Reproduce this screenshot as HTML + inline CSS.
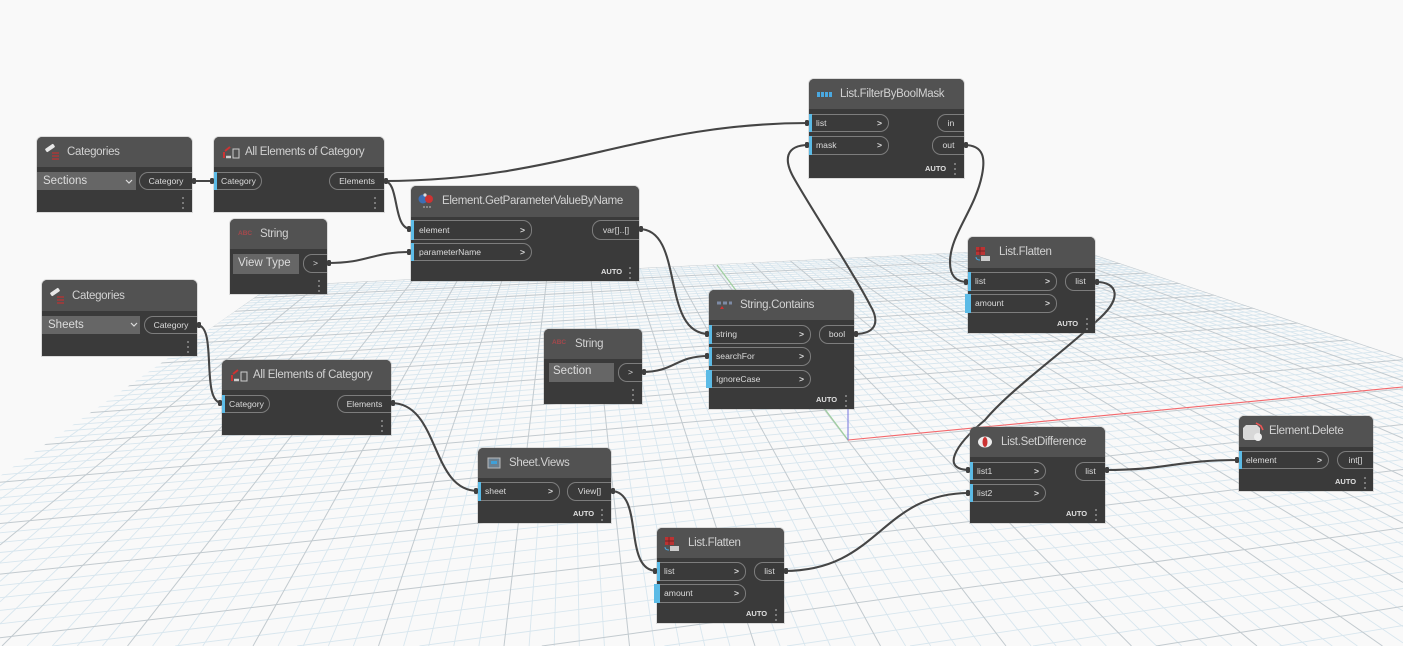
<!DOCTYPE html>
<html><head><meta charset="utf-8">
<style>
html,body{margin:0;padding:0;width:1403px;height:646px;overflow:hidden;background:#f9f9f9}
#w{position:absolute;left:0;top:0;width:1403px;height:646px;overflow:hidden;filter:blur(.35px);font-family:"Liberation Sans",sans-serif}
svg{position:absolute;left:0;top:0;display:block}
.n{position:absolute;background:#3a3a3a;border-radius:5px 5px 0 0;box-shadow:0 0 0 1px rgba(150,150,150,.3)}
.h{position:absolute;left:0;top:0;width:100%;background:#525252;border-radius:5px 5px 0 0}
.t{position:absolute;line-height:30px;font-size:11.5px;letter-spacing:-.3px;color:#d2d2d2;white-space:nowrap}
.i,.o{position:absolute;box-sizing:border-box;border:1px solid #7d7d7d;background:#3a3a3a;font-size:8.6px;color:#dcdcdc;white-space:nowrap}
.i{border-left:0;border-radius:0 9px 9px 0;padding-left:7px}
.i b{position:absolute;right:6px;top:0;font-weight:bold;font-size:8.6px}
.o{border-right:0;border-radius:9px 0 0 9px;text-align:center}
.b{position:absolute;width:3px;background:#5cbbe6}
.d{position:absolute;background:#666;color:#dcdcdc;font-size:11.5px;padding-left:6px;box-sizing:border-box;white-space:nowrap}
.a{position:absolute;font-size:7.5px;font-weight:bold;color:#e0e0e0;line-height:10px;white-space:nowrap}
.c{position:absolute;font-size:6.5px;font-weight:bold;color:#a5484c;line-height:10px;white-space:nowrap}
</style></head><body><div id="w">

<svg id="g" width="1403" height="646" viewBox="0 0 1403 646">
<defs><clipPath id="cp"><polygon points="271,286 1071,247 1403,358 1403,646 0,646 0,476"/></clipPath></defs>
<g id="grid" clip-path="url(#cp)" fill="none"></g>
<path d="M717 265L848 440" stroke="#9fcf9f" stroke-width="1.2" fill="none"/>
<path d="M848 440L1403 387" stroke="#f4686c" stroke-width="1.1" fill="none"/>
<path d="M848 440V409" stroke="#7f7fe0" stroke-width="1.1" fill="none"/>
</svg>

<svg width="1403" height="646" viewBox="0 0 1403 646" fill="none" stroke="#454545" stroke-width="2.1" stroke-linecap="round">
<path d="M192 181H214"/>
<path d="M384 181C560 181 640 123 809 123"/>
<path d="M384 181C400 181 392 229 411 229"/>
<path d="M327 263C370 263 370 252 411 252"/>
<path d="M197 325C218 325 200 403 222 403"/>
<path d="M391 403C440 403 430 491 478 491"/>
<path d="M611 491C645 491 622 571 657 571"/>
<path d="M784 571C880 571 880 493 970 493"/>
<path d="M639 229C685 229 660 334 709 334"/>
<path d="M642 372C675 372 675 356 709 356"/>
<path d="M854 334C880 334 878 318 870 305C855 275 815 215 795 180C783 160 785 145 809 145"/>
<path d="M964 145C985 145 985 160 982 175C975 210 950 235 950 262C950 275 955 282 968 282"/>
<path d="M1096 282C1118 282 1122 298 1100 318C1060 355 1010 390 985 420C955 445 940 470 970 470"/>
<path d="M1105 470C1170 470 1175 460 1239 460"/>
</svg>

<!-- Categories 1 -->
<div class="n" style="left:37px;top:137px;width:155px;height:75px"><div class="h" style="height:30px"></div></div>
<div class="t" style="left:67px;top:137px">Categories</div>
<div class="d" style="left:37px;top:172px;width:99px;height:18px;line-height:18px">Sections</div>
<div class="o" style="left:139px;top:172px;width:53px;height:18px;line-height:16px">Category</div>

<!-- All Elements 1 -->
<div class="n" style="left:214px;top:137px;width:170px;height:75px"><div class="h" style="height:30px"></div></div>
<div class="t" style="left:245px;top:137px">All Elements of Category</div>
<div class="i" style="left:217px;top:172px;width:45px;height:18px;line-height:16px;padding-left:4px">Category</div>
<div class="b" style="left:214px;top:172px;height:18px"></div>
<div class="o" style="left:329px;top:172px;width:55px;height:18px;line-height:16px">Elements</div>

<!-- String 1 -->
<div class="n" style="left:230px;top:219px;width:97px;height:75px"><div class="h" style="height:30px"></div></div>
<div class="c" style="left:238px;top:229px">ABC</div>
<div class="t" style="left:260px;top:219px">String</div>
<div class="d" style="left:233px;top:254px;width:66px;height:20px;line-height:18px;padding-left:5px">View Type</div>
<div class="o" style="left:303px;top:254px;width:24px;height:19px;line-height:17px">&gt;</div>

<!-- Categories 2 -->
<div class="n" style="left:42px;top:280px;width:155px;height:76px"><div class="h" style="height:31px"></div></div>
<div class="t" style="left:72px;top:281px">Categories</div>
<div class="d" style="left:42px;top:316px;width:98px;height:18px;line-height:18px">Sheets</div>
<div class="o" style="left:144px;top:316px;width:53px;height:18px;line-height:16px">Category</div>

<!-- All Elements 2 -->
<div class="n" style="left:222px;top:360px;width:169px;height:75px"><div class="h" style="height:30px"></div></div>
<div class="t" style="left:253px;top:360px">All Elements of Category</div>
<div class="i" style="left:225px;top:395px;width:45px;height:18px;line-height:16px;padding-left:4px">Category</div>
<div class="b" style="left:222px;top:395px;height:18px"></div>
<div class="o" style="left:337px;top:395px;width:54px;height:18px;line-height:16px">Elements</div>

<!-- GetParameterValueByName -->
<div class="n" style="left:411px;top:186px;width:228px;height:95px"><div class="h" style="height:31px"></div></div>
<div class="t" style="left:442px;top:186px">Element.GetParameterValueByName</div>
<div class="i" style="left:414px;top:220px;width:118px;height:20px;line-height:18px;padding-left:5px">element<b>&gt;</b></div>
<div class="b" style="left:411px;top:220px;height:20px"></div>
<div class="i" style="left:414px;top:243px;width:118px;height:18px;line-height:16px;padding-left:5px">parameterName<b>&gt;</b></div>
<div class="b" style="left:411px;top:243px;height:18px"></div>
<div class="o" style="left:592px;top:220px;width:47px;height:20px;line-height:18px">var[]..[]</div>
<div class="a" style="left:601px;top:267px">AUTO</div>

<!-- String 2 -->
<div class="n" style="left:544px;top:329px;width:98px;height:75px"><div class="h" style="height:30px"></div></div>
<div class="c" style="left:552px;top:338px">ABC</div>
<div class="t" style="left:575px;top:329px">String</div>
<div class="d" style="left:549px;top:363px;width:65px;height:19px;line-height:17px;padding-left:4px">Section</div>
<div class="o" style="left:618px;top:363px;width:24px;height:19px;line-height:17px">&gt;</div>

<!-- String.Contains -->
<div class="n" style="left:709px;top:290px;width:145px;height:119px"><div class="h" style="height:30px"></div></div>
<div class="t" style="left:740px;top:290px">String.Contains</div>
<div class="i" style="left:712px;top:325px;width:99px;height:19px;line-height:17px;padding-left:4px">string<b>&gt;</b></div>
<div class="b" style="left:709px;top:325px;height:19px"></div>
<div class="i" style="left:712px;top:347px;width:99px;height:19px;line-height:17px;padding-left:4px">searchFor<b>&gt;</b></div>
<div class="b" style="left:709px;top:347px;height:19px"></div>
<div class="i" style="left:712px;top:370px;width:99px;height:18px;line-height:16px;padding-left:4px">IgnoreCase<b>&gt;</b></div>
<div class="b" style="left:706px;top:370px;height:18px;width:6px"></div>
<div class="o" style="left:819px;top:325px;width:35px;height:19px;line-height:17px">bool</div>
<div class="a" style="left:816px;top:395px">AUTO</div>

<!-- FilterByBoolMask -->
<div class="n" style="left:809px;top:79px;width:155px;height:99px"><div class="h" style="height:30px"></div></div>
<div class="t" style="left:840px;top:79px">List.FilterByBoolMask</div>
<div class="i" style="left:812px;top:114px;width:77px;height:18px;line-height:16px;padding-left:4px">list<b>&gt;</b></div>
<div class="b" style="left:809px;top:114px;height:18px"></div>
<div class="i" style="left:812px;top:136px;width:77px;height:19px;line-height:17px;padding-left:4px">mask<b>&gt;</b></div>
<div class="b" style="left:809px;top:136px;height:19px"></div>
<div class="o" style="left:937px;top:114px;width:27px;height:18px;line-height:16px">in</div>
<div class="o" style="left:932px;top:136px;width:32px;height:19px;line-height:17px">out</div>
<div class="a" style="left:925px;top:164px">AUTO</div>

<!-- Flatten 1 -->
<div class="n" style="left:968px;top:237px;width:127px;height:96px"><div class="h" style="height:31px"></div></div>
<div class="t" style="left:999px;top:237px">List.Flatten</div>
<div class="i" style="left:971px;top:272px;width:86px;height:19px;line-height:17px;padding-left:4px">list<b>&gt;</b></div>
<div class="b" style="left:968px;top:272px;height:19px"></div>
<div class="i" style="left:971px;top:294px;width:86px;height:19px;line-height:17px;padding-left:4px">amount<b>&gt;</b></div>
<div class="b" style="left:965px;top:294px;height:19px;width:6px"></div>
<div class="o" style="left:1065px;top:272px;width:30px;height:19px;line-height:17px">list</div>
<div class="a" style="left:1057px;top:319px">AUTO</div>

<!-- SetDifference -->
<div class="n" style="left:970px;top:427px;width:135px;height:96px"><div class="h" style="height:30px"></div></div>
<div class="t" style="left:1001px;top:427px">List.SetDifference</div>
<div class="i" style="left:973px;top:462px;width:73px;height:18px;line-height:16px;padding-left:4px">list1<b>&gt;</b></div>
<div class="b" style="left:970px;top:462px;height:18px"></div>
<div class="i" style="left:973px;top:484px;width:73px;height:18px;line-height:16px;padding-left:4px">list2<b>&gt;</b></div>
<div class="b" style="left:970px;top:484px;height:18px"></div>
<div class="o" style="left:1075px;top:462px;width:30px;height:19px;line-height:17px">list</div>
<div class="a" style="left:1066px;top:509px">AUTO</div>

<!-- Element.Delete -->
<div class="n" style="left:1239px;top:416px;width:134px;height:75px"><div class="h" style="height:31px"></div></div>
<div class="t" style="left:1269px;top:416px">Element.Delete</div>
<div class="i" style="left:1242px;top:451px;width:87px;height:18px;line-height:16px;padding-left:4px">element<b>&gt;</b></div>
<div class="b" style="left:1239px;top:451px;height:18px"></div>
<div class="o" style="left:1337px;top:451px;width:36px;height:18px;line-height:16px">int[]</div>
<div class="a" style="left:1335px;top:477px">AUTO</div>

<!-- Sheet.Views -->
<div class="n" style="left:478px;top:448px;width:133px;height:75px"><div class="h" style="height:30px"></div></div>
<div class="t" style="left:509px;top:448px">Sheet.Views</div>
<div class="i" style="left:481px;top:482px;width:79px;height:19px;line-height:17px;padding-left:4px">sheet<b>&gt;</b></div>
<div class="b" style="left:478px;top:482px;height:19px"></div>
<div class="o" style="left:567px;top:482px;width:44px;height:19px;line-height:17px">View[]</div>
<div class="a" style="left:573px;top:509px">AUTO</div>

<!-- Flatten 2 -->
<div class="n" style="left:657px;top:528px;width:127px;height:95px"><div class="h" style="height:30px"></div></div>
<div class="t" style="left:688px;top:528px">List.Flatten</div>
<div class="i" style="left:660px;top:562px;width:86px;height:19px;line-height:17px;padding-left:4px">list<b>&gt;</b></div>
<div class="b" style="left:657px;top:562px;height:19px"></div>
<div class="i" style="left:660px;top:584px;width:86px;height:19px;line-height:17px;padding-left:4px">amount<b>&gt;</b></div>
<div class="b" style="left:654px;top:584px;height:19px;width:6px"></div>
<div class="o" style="left:754px;top:562px;width:30px;height:19px;line-height:17px">list</div>
<div class="a" style="left:746px;top:609px">AUTO</div>

<svg width="1403" height="646" viewBox="0 0 1403 646">
<!-- knobs -->
<g fill="#3f3f3f">
<rect x="192" y="178" width="4" height="6" rx="1.5"/><rect x="210" y="178" width="4" height="6" rx="1.5"/>
<rect x="384" y="178" width="4" height="6" rx="1.5"/><rect x="407" y="226" width="4" height="6" rx="1.5"/>
<rect x="407" y="249" width="4" height="6" rx="1.5"/><rect x="327" y="260" width="4" height="6" rx="1.5"/>
<rect x="197" y="322" width="4" height="6" rx="1.5"/><rect x="218" y="400" width="4" height="6" rx="1.5"/>
<rect x="391" y="400" width="4" height="6" rx="1.5"/><rect x="474" y="488" width="4" height="6" rx="1.5"/>
<rect x="611" y="488" width="4" height="6" rx="1.5"/><rect x="653" y="568" width="4" height="6" rx="1.5"/>
<rect x="784" y="568" width="4" height="6" rx="1.5"/><rect x="966" y="490" width="4" height="6" rx="1.5"/>
<rect x="639" y="226" width="4" height="6" rx="1.5"/><rect x="705" y="331" width="4" height="6" rx="1.5"/>
<rect x="642" y="369" width="4" height="6" rx="1.5"/><rect x="705" y="353" width="4" height="6" rx="1.5"/>
<rect x="854" y="331" width="4" height="6" rx="1.5"/><rect x="805" y="142" width="4" height="6" rx="1.5"/>
<rect x="805" y="120" width="4" height="6" rx="1.5"/><rect x="964" y="142" width="4" height="6" rx="1.5"/>
<rect x="964" y="279" width="4" height="6" rx="1.5"/><rect x="1095" y="279" width="4" height="6" rx="1.5"/>
<rect x="966" y="467" width="4" height="6" rx="1.5"/><rect x="1105" y="467" width="4" height="6" rx="1.5"/>
<rect x="1235" y="457" width="4" height="6" rx="1.5"/>
</g>
<!-- menu dots -->
<g fill="#a8a8a8">
<circle cx="183" cy="198" r=".9"/><circle cx="183" cy="203" r=".9"/><circle cx="183" cy="208" r=".9"/>
<circle cx="375" cy="198" r=".9"/><circle cx="375" cy="203" r=".9"/><circle cx="375" cy="208" r=".9"/>
<circle cx="319" cy="281" r=".9"/><circle cx="319" cy="286" r=".9"/><circle cx="319" cy="291" r=".9"/>
<circle cx="188" cy="342" r=".9"/><circle cx="188" cy="347" r=".9"/><circle cx="188" cy="352" r=".9"/>
<circle cx="382" cy="421" r=".9"/><circle cx="382" cy="426" r=".9"/><circle cx="382" cy="431" r=".9"/>
<circle cx="633" cy="390" r=".9"/><circle cx="633" cy="395" r=".9"/><circle cx="633" cy="400" r=".9"/>
<circle cx="630" cy="268" r=".9"/><circle cx="630" cy="273" r=".9"/><circle cx="630" cy="278" r=".9"/>
<circle cx="846" cy="396" r=".9"/><circle cx="846" cy="401" r=".9"/><circle cx="846" cy="406" r=".9"/>
<circle cx="955" cy="164" r=".9"/><circle cx="955" cy="169" r=".9"/><circle cx="955" cy="174" r=".9"/>
<circle cx="1087" cy="319" r=".9"/><circle cx="1087" cy="324" r=".9"/><circle cx="1087" cy="329" r=".9"/>
<circle cx="1096" cy="510" r=".9"/><circle cx="1096" cy="515" r=".9"/><circle cx="1096" cy="520" r=".9"/>
<circle cx="1365" cy="478" r=".9"/><circle cx="1365" cy="483" r=".9"/><circle cx="1365" cy="488" r=".9"/>
<circle cx="602" cy="510" r=".9"/><circle cx="602" cy="515" r=".9"/><circle cx="602" cy="520" r=".9"/>
<circle cx="776" cy="610" r=".9"/><circle cx="776" cy="615" r=".9"/><circle cx="776" cy="620" r=".9"/>
</g>
<!-- dropdown chevrons -->
<polyline points="126,180 129,183 132,180" fill="none" stroke="#ddd" stroke-width="1.2"/>
<polyline points="131,323 134,326 137,323" fill="none" stroke="#ddd" stroke-width="1.2"/>
<!-- Categories icons -->
<g><rect x="45" y="146" width="10" height="4" rx="1" fill="#e8e8e8" transform="rotate(-35 50 148)"/><path d="M52 153h7M52 156h7M52 159h7" stroke="#b33" stroke-width="1.2"/></g>
<g><rect x="50" y="290" width="10" height="4" rx="1" fill="#e8e8e8" transform="rotate(-35 55 292)"/><path d="M57 297h7M57 300h7M57 303h7" stroke="#b33" stroke-width="1.2"/></g>
<!-- All Elements icons -->
<g fill="none" stroke="#ccc"><rect x="233" y="149" width="6" height="9"/><path d="M226 157h5" stroke-width="2.5"/><rect x="241" y="372" width="6" height="9"/><path d="M234 380h5" stroke-width="2.5"/></g>
<path d="M225 151l5-4M224 152v6" stroke="#c33" stroke-width="2" fill="none"/>
<path d="M233 374l5-4M232 375v6" stroke="#c33" stroke-width="2" fill="none"/>
<!-- GetParameter icon -->
<circle cx="423" cy="199" r="4.5" fill="#3d6fb5"/><circle cx="429" cy="199" r="4" fill="#c33"/><circle cx="425" cy="195" r="1.6" fill="#ddd"/><path d="M423 207h9" stroke="#888" stroke-width="2" stroke-dasharray="2 1"/>
<!-- Contains icon -->
<path d="M717 303h4M723 303h4M729 303h3" stroke="#7d8ba5" stroke-width="3"/><path d="M720 309l2-3 2 3z" fill="#c33"/>
<!-- Filter icon -->
<g fill="#4aa8e0"><rect x="817" y="92" width="3" height="5"/><rect x="821" y="92" width="3" height="5"/><rect x="825" y="92" width="3" height="5"/><rect x="829" y="92" width="3" height="5"/></g>
<!-- Flatten icons -->
<g><rect x="976" y="247" width="9" height="8" fill="#b33"/><path d="M976 251h9M980 247v8" stroke="#522" stroke-width=".7"/><rect x="981" y="256" width="9" height="5" fill="#ccc"/><path d="M976 257q0 3 4 3" stroke="#4aa8e0" fill="none"/></g>
<g><rect x="665" y="537" width="9" height="8" fill="#b33"/><path d="M665 541h9M669 537v8" stroke="#522" stroke-width=".7"/><rect x="670" y="546" width="9" height="5" fill="#ccc"/><path d="M665 547q0 3 4 3" stroke="#4aa8e0" fill="none"/></g>
<!-- SetDifference icon -->
<ellipse cx="985" cy="442" rx="7" ry="5.5" fill="#eee"/><ellipse cx="985" cy="442" rx="2.5" ry="5" fill="#c33"/>
<!-- Delete icon -->
<path d="M1243 428l3-3h11l3 3v10l-3 2h-12l-2-2z" fill="#d8d8d8"/><circle cx="1258" cy="437" r="4" fill="#eee"/><path d="M1256 423l5 3 2 4" stroke="#e55" stroke-width="1.6" fill="none"/>
<!-- Sheet icon -->
<rect x="488" y="458" width="12" height="10" fill="#6a7f90" stroke="#bbb"/><rect x="491" y="461" width="6" height="3" fill="#3fa0d8"/>
</svg>
</div>
<script>
(function(){
var g=document.getElementById('grid'),ns='http://www.w3.org/2000/svg';
function L(x1,y1,x2,y2,c,w){
 var dx=x2-x1,dy=y2-y1,t0=0,t1=1,P=[-dx,dx,-dy,dy],Q=[x1,1403-x1,y1,646-y1];
 for(var k=0;k<4;k++){if(P[k]==0){if(Q[k]<0)return;continue;}var r=Q[k]/P[k];if(P[k]<0){if(r>t1)return;if(r>t0)t0=r;}else{if(r<t0)return;if(r<t1)t1=r;}}
 var l=document.createElementNS(ns,'line');
 l.setAttribute('x1',(x1+dx*t0).toFixed(1));l.setAttribute('y1',(y1+dy*t0).toFixed(1));
 l.setAttribute('x2',(x1+dx*t1).toFixed(1));l.setAttribute('y2',(y1+dy*t1).toFixed(1));
 l.setAttribute('stroke',c);l.setAttribute('stroke-width',w);g.appendChild(l);}
var n,x,t,inv,y0,sl,mn='#d8e6ee',mj='#c2cacf';
for(n=-50;n<=50;n++){if(n%5==0)continue;x=1006+25.1*n;t=(x-570)/567;L(570,79,x+t*80,726,mn,.9);}
for(n=-30;n<=50;n++){if(n%5==0)continue;inv=.00226+.000232*n/5;if(inv<=0)continue;y0=81+1/inv;sl=(y0-66)/4766;L(0,y0,4766,66,mn,.9);}
for(n=-10;n<=10;n++){x=1006+125.5*n;t=(x-570)/567;L(570,79,x+t*80,726,mj,1);}
for(n=-6;n<=10;n++){inv=.00226+.000232*n;if(inv<=0)continue;y0=81+1/inv;L(0,y0,4766,66,mj,1);}
})();
</script>
</body></html>
